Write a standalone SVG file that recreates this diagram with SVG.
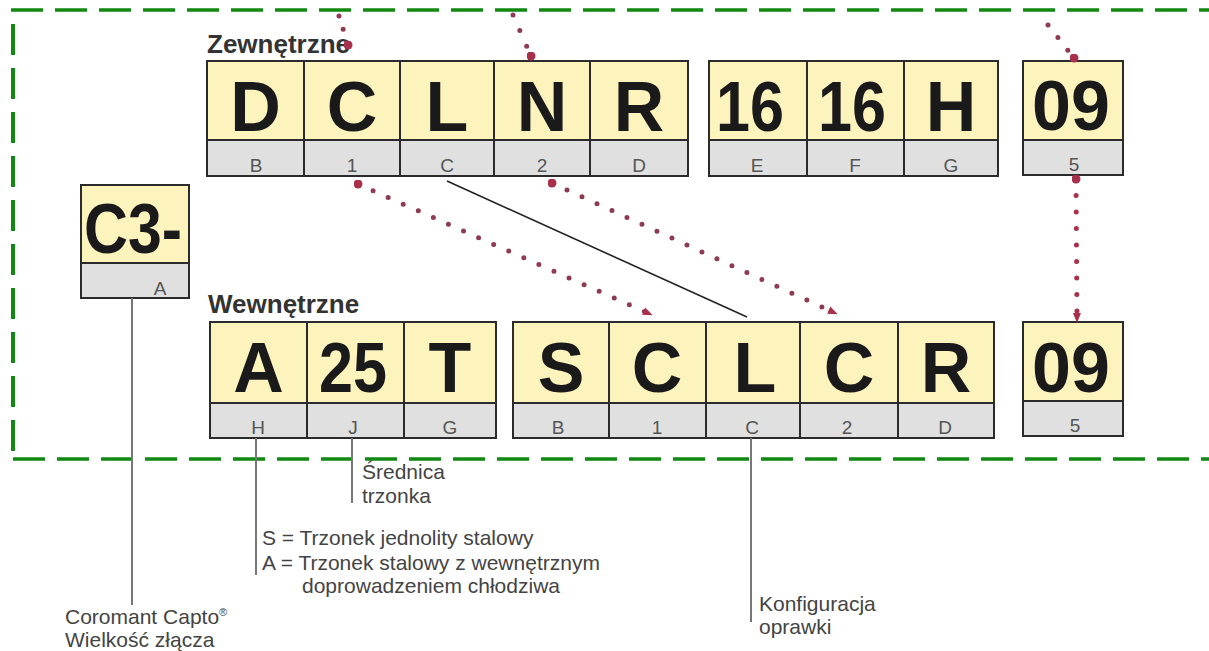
<svg xmlns="http://www.w3.org/2000/svg" width="1209" height="651" viewBox="0 0 1209 651">
<style>
.y{fill:#fdf3bd;stroke:#2b2b2b;stroke-width:2}
.g{fill:#e0e0e0;stroke:#2b2b2b;stroke-width:2}
.big{font-family:"Liberation Sans",Arial,sans-serif;font-weight:bold;font-size:70px;fill:#1a1a1a;text-anchor:middle}
.lab{font-family:"Liberation Sans",Arial,sans-serif;font-size:19px;fill:#555;text-anchor:middle}
.ann{font-family:"Liberation Sans",Arial,sans-serif;font-size:21px;fill:#444}
.hdr{font-family:"Liberation Sans",Arial,sans-serif;font-size:26px;font-weight:bold;fill:#333}
.frame{stroke:#118811;stroke-width:3.5;fill:none;stroke-dasharray:32 12}
.lead{stroke:#777;stroke-width:2;fill:none}
.dots{stroke:#8e3a52;stroke-width:5;stroke-linecap:round;stroke-dasharray:0 16.5;fill:none}
</style>
<defs>
<marker id="tri" viewBox="0 0 10 10" refX="7" refY="5" markerWidth="10" markerHeight="10" markerUnits="userSpaceOnUse" orient="auto"><path d="M0,1 L10,5 L0,9 z" fill="#a8304a"/></marker>
<marker id="dot" viewBox="0 0 10 10" refX="5" refY="5" markerWidth="9" markerHeight="9" markerUnits="userSpaceOnUse"><circle cx="5" cy="5" r="5" fill="#a8304a"/></marker>
</defs>
<rect width="1209" height="651" fill="#ffffff"/>

<g id="frame">
<line class="frame" x1="11" y1="10" x2="1209" y2="10"/>
<line class="frame" x1="13" y1="24" x2="13" y2="452" style="stroke-dasharray:31 13;stroke-width:4"/>
<line class="frame" x1="13" y1="459" x2="1209" y2="459"/>
</g>

<g id="headers">
<text class="hdr" x="207" y="53">Zewnętrzne</text>
<text class="hdr" x="208" y="313">Wewnętrzne</text>
</g>

<g id="node-C3">
<rect class="y" x="81" y="185" width="108" height="78"/>
<rect class="g" x="81" y="263" width="108" height="35"/>
<text class="big" x="84" y="253" style="text-anchor:start" textLength="98" lengthAdjust="spacingAndGlyphs">C3-</text>
<text class="lab" x="160" y="295">A</text>
</g>

<g id="node-top-D"><rect class="y" x="207" y="61" width="97" height="79"/><rect class="g" x="207" y="140" width="97" height="36"/><text class="big" x="255.5" y="131">D</text><text class="lab" x="256" y="172">B</text></g>
<g id="node-top-C"><rect class="y" x="304" y="61" width="96" height="79"/><rect class="g" x="304" y="140" width="96" height="36"/><text class="big" x="352" y="131">C</text><text class="lab" x="352" y="172">1</text></g>
<g id="node-top-L"><rect class="y" x="400" y="61" width="94" height="79"/><rect class="g" x="400" y="140" width="94" height="36"/><text class="big" x="447" y="131">L</text><text class="lab" x="447" y="172">C</text></g>
<g id="node-top-N"><rect class="y" x="494" y="61" width="96" height="79"/><rect class="g" x="494" y="140" width="96" height="36"/><text class="big" x="542" y="131">N</text><text class="lab" x="542" y="172">2</text></g>
<g id="node-top-R"><rect class="y" x="590" y="61" width="98" height="79"/><rect class="g" x="590" y="140" width="98" height="36"/><text class="big" x="639" y="131">R</text><text class="lab" x="639" y="172">D</text></g>

<g id="node-top-16a"><rect class="y" x="709" y="61" width="98" height="79"/><rect class="g" x="709" y="140" width="98" height="36"/><text class="big" x="750" y="131" textLength="68" lengthAdjust="spacingAndGlyphs">16</text><text class="lab" x="757" y="172">E</text></g>
<g id="node-top-16b"><rect class="y" x="807" y="61" width="97" height="79"/><rect class="g" x="807" y="140" width="97" height="36"/><text class="big" x="852" y="131" textLength="68" lengthAdjust="spacingAndGlyphs">16</text><text class="lab" x="855" y="172">F</text></g>
<g id="node-top-H"><rect class="y" x="904" y="61" width="94" height="79"/><rect class="g" x="904" y="140" width="94" height="36"/><text class="big" x="951" y="131">H</text><text class="lab" x="951" y="172">G</text></g>

<g id="node-top-09"><rect class="y" x="1023" y="61" width="100" height="79"/><rect class="g" x="1023" y="140" width="100" height="35"/><text class="big" x="1071" y="130">09</text><text class="lab" x="1074" y="171">5</text></g>

<g id="node-bot-A"><rect class="y" x="210" y="322" width="97" height="81"/><rect class="g" x="210" y="403" width="97" height="35"/><text class="big" x="258.5" y="392">A</text><text class="lab" x="258" y="434">H</text></g>
<g id="node-bot-25"><rect class="y" x="307" y="322" width="97" height="81"/><rect class="g" x="307" y="403" width="97" height="35"/><text class="big" x="353" y="392" textLength="68" lengthAdjust="spacingAndGlyphs">25</text><text class="lab" x="353" y="434">J</text></g>
<g id="node-bot-T"><rect class="y" x="404" y="322" width="92" height="81"/><rect class="g" x="404" y="403" width="92" height="35"/><text class="big" x="450" y="392">T</text><text class="lab" x="450" y="434">G</text></g>

<g id="node-bot-S"><rect class="y" x="513" y="322" width="96" height="81"/><rect class="g" x="513" y="403" width="96" height="35"/><text class="big" x="561" y="392">S</text><text class="lab" x="558" y="434">B</text></g>
<g id="node-bot-C1"><rect class="y" x="609" y="322" width="97" height="81"/><rect class="g" x="609" y="403" width="97" height="35"/><text class="big" x="657" y="392">C</text><text class="lab" x="657" y="434">1</text></g>
<g id="node-bot-L"><rect class="y" x="706" y="322" width="94" height="81"/><rect class="g" x="706" y="403" width="94" height="35"/><text class="big" x="755" y="392">L</text><text class="lab" x="752" y="434">C</text></g>
<g id="node-bot-C2"><rect class="y" x="800" y="322" width="98" height="81"/><rect class="g" x="800" y="403" width="98" height="35"/><text class="big" x="849" y="392">C</text><text class="lab" x="847" y="434">2</text></g>
<g id="node-bot-R"><rect class="y" x="898" y="322" width="96" height="81"/><rect class="g" x="898" y="403" width="96" height="35"/><text class="big" x="946" y="392">R</text><text class="lab" x="945" y="434">D</text></g>

<g id="node-bot-09"><rect class="y" x="1023" y="322" width="100" height="79"/><rect class="g" x="1023" y="401" width="100" height="35"/><text class="big" x="1071" y="392">09</text><text class="lab" x="1075" y="432">5</text></g>

<g id="connectors">
<path class="dots" d="M358,184 L650,314" marker-start="url(#dot)" marker-end="url(#tri)"/>
<path class="dots" d="M552,183 L835,313" marker-start="url(#dot)" marker-end="url(#tri)"/>
<path class="dots" d="M1076,179 L1077,320" style="stroke:#a8304a" marker-start="url(#dot)" marker-end="url(#tri)"/>
<path class="dots" d="M339,16 L348,45" style="stroke-dasharray:0 14" marker-end="url(#dot)"/>
<path class="dots" d="M513,15 L531,56" style="stroke-dasharray:0 17" marker-end="url(#dot)"/>
<path class="dots" d="M1048,25 L1074,58" style="stroke-dasharray:0 16" marker-end="url(#dot)"/>
<line x1="447" y1="181" x2="747" y2="317" stroke="#222" stroke-width="1.6"/>
<line class="lead" x1="132" y1="298" x2="132" y2="605"/>
<line class="lead" x1="256" y1="438" x2="256" y2="575"/>
<line class="lead" x1="352" y1="438" x2="352" y2="503"/>
<line class="lead" x1="751" y1="438" x2="751" y2="622"/>
</g>

<g id="annotations">
<text class="ann" x="362" y="479">Średnica</text>
<text class="ann" x="362" y="503">trzonka</text>
<text class="ann" x="262" y="545">S = Trzonek jednolity stalowy</text>
<text class="ann" x="262" y="570">A = Trzonek stalowy z wewnętrznym</text>
<text class="ann" x="302" y="593">doprowadzeniem chłodziwa</text>
<text class="ann" x="65" y="624">Coromant Capto<tspan font-size="11" dy="-8">®</tspan></text>
<text class="ann" x="65" y="647">Wielkość złącza</text>
<text class="ann" x="759" y="611">Konfiguracja</text>
<text class="ann" x="759" y="634">oprawki</text>
</g>
</svg>
